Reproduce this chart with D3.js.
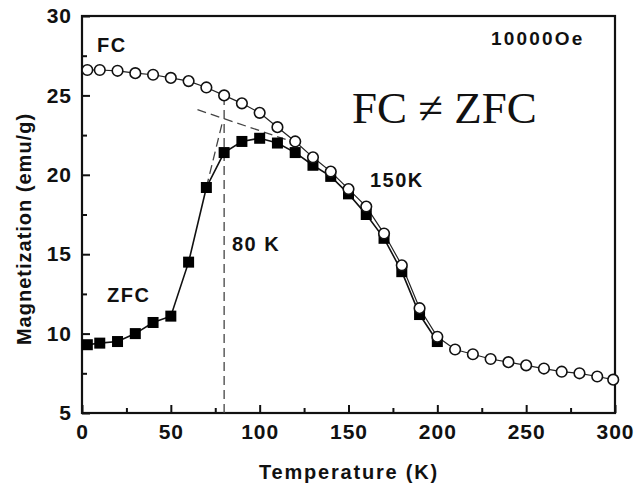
<!DOCTYPE html>
<html>
<head>
<meta charset="utf-8">
<script src="https://cdn.jsdelivr.net/npm/d3@7"></script>
<style>
  html, body { margin: 0; padding: 0; background: #fff; }
  svg { display: block; }
  text { font-family: Arial, "Liberation Sans", sans-serif; fill: #111; }
</style>
</head>
<body>
<svg id="chart" width="635" height="487"></svg>
<script>
// ---- data ----
const fcTemp = [3, 10, 20, 30, 40, 50, 60, 70, 80, 90, 100, 110, 120, 130, 140, 150, 160, 170, 180, 190, 200, 210, 220, 230, 240, 250, 260, 270, 280, 290, 299];
const fcMag  = [26.6, 26.6, 26.55, 26.4, 26.3, 26.1, 25.9, 25.5, 25.0, 24.5, 23.9, 23.0, 22.1, 21.1, 20.2, 19.1, 18.0, 16.3, 14.3, 11.6, 9.8, 9.0, 8.7, 8.4, 8.2, 8.0, 7.8, 7.6, 7.5, 7.3, 7.1];
const zfcTemp = [3, 10, 20, 30, 40, 50, 60, 70, 80, 90, 100, 110, 120, 130, 140, 150, 160, 170, 180, 190, 200];
const zfcMag  = [9.3, 9.4, 9.5, 10.0, 10.7, 11.1, 14.5, 19.2, 21.4, 22.1, 22.3, 22.0, 21.4, 20.6, 19.9, 18.8, 17.5, 16.0, 13.9, 11.2, 9.5];
const xTicks = [0, 50, 100, 150, 200, 250, 300];
const xMinor = [25, 75, 125, 175, 225, 275];
const yTicks = [5, 10, 15, 20, 25, 30];
const yMinor = [7.5, 12.5, 17.5, 22.5, 27.5];
// dashed guide lines [T, M] pairs
const guideVertical = [[80, 5], [80, 24.9]];
const guideFlat = [[65, 24.1], [118, 22.1]];
const guideSteep = [[70, 19.2], [79, 23.3]];

// ---- layout ----
const svg = d3.select("#chart");
const L = 82, R = 615, T = 16, B = 413;
const x = d3.scaleLinear().domain([0, 300]).range([L, R]);
const y = d3.scaleLinear().domain([5, 30]).range([B, T]);

// minor ticks
svg.append("g").attr("transform", `translate(0,${B})`)
  .call(d3.axisBottom(x).tickValues(xMinor).tickSize(-5).tickFormat(""))
  .call(g => g.select(".domain").remove())
  .selectAll("line").attr("stroke", "#111").attr("stroke-width", 2);
svg.append("g").attr("transform", `translate(${L},0)`)
  .call(d3.axisLeft(y).tickValues(yMinor).tickSize(-5).tickFormat(""))
  .call(g => g.select(".domain").remove())
  .selectAll("line").attr("stroke", "#111").attr("stroke-width", 2);

// major ticks
const gx = svg.append("g").attr("transform", `translate(0,${B})`)
  .call(d3.axisBottom(x).tickValues(xTicks).tickSize(-8).tickPadding(11).tickFormat(d3.format("d")));
gx.select(".domain").remove();
gx.selectAll("line").attr("stroke", "#111").attr("stroke-width", 2);
gx.selectAll("text").attr("font-size", 21).attr("font-weight", "bold")
  .attr("font-family", "Arial, 'Liberation Sans', sans-serif").attr("fill", "#111")
  .style("letter-spacing", "1px");

const gy = svg.append("g").attr("transform", `translate(${L},0)`)
  .call(d3.axisLeft(y).tickValues(yTicks).tickSize(-8).tickPadding(10).tickFormat(d3.format("d")));
gy.select(".domain").remove();
gy.selectAll("line").attr("stroke", "#111").attr("stroke-width", 2);
gy.selectAll("text").attr("font-size", 21).attr("font-weight", "bold")
  .attr("font-family", "Arial, 'Liberation Sans', sans-serif").attr("fill", "#111")
  .style("letter-spacing", "1px");

// frame
svg.append("rect").attr("x", L).attr("y", T).attr("width", R - L).attr("height", B - T)
  .attr("fill", "none").attr("stroke", "#111").attr("stroke-width", 2.2);

// guides
const line = d3.line().x(d => x(d[0])).y(d => y(d[1]));
[guideVertical, guideFlat, guideSteep].forEach(g => {
  svg.append("path").attr("d", line(g)).attr("fill", "none")
    .attr("stroke", "#444").attr("stroke-width", 1.3).attr("stroke-dasharray", "9,5");
});

// FC line + markers
const fcData = fcTemp.map((t, i) => [t, fcMag[i]]);
const zfcData = zfcTemp.map((t, i) => [t, zfcMag[i]]);

svg.append("path").attr("d", line(zfcData)).attr("fill", "none")
  .attr("stroke", "#111").attr("stroke-width", 1.6);
svg.append("path").attr("d", line(fcData)).attr("fill", "none")
  .attr("stroke", "#222").attr("stroke-width", 1.2);

svg.append("g").selectAll("rect").data(zfcData).join("rect")
  .attr("x", d => x(d[0]) - 5.5).attr("y", d => y(d[1]) - 5.5)
  .attr("width", 11).attr("height", 11).attr("fill", "#000");

svg.append("g").selectAll("circle").data(fcData).join("circle")
  .attr("cx", d => x(d[0])).attr("cy", d => y(d[1])).attr("r", 5.3)
  .attr("fill", "#fff").attr("stroke", "#111").attr("stroke-width", 1.6);

// annotations
function label(txt, px, py, size, opts = {}) {
  const t = svg.append("text").attr("x", px).attr("y", py).attr("font-size", size)
    .attr("font-weight", opts.weight || "bold").text(txt);
  if (opts.anchor) t.attr("text-anchor", opts.anchor);
  if (opts.family) t.style("font-family", opts.family);
  if (opts.ls) t.style("letter-spacing", opts.ls);
  return t;
}
label("FC", 97, 52, 20, { ls: "1.5px" });
label("10000Oe", 491, 45, 19, { ls: "2.2px" });
label("150K", 370, 187, 20, { ls: "1.5px" });
label("80 K", 232, 251, 20, { ls: "1.5px" });
label("ZFC", 107, 302, 20, { ls: "1.5px" });
label("FC \u2260 ZFC", 352, 123, 45, { weight: "normal", family: "'Liberation Serif', 'Times New Roman', serif" });

// axis titles
label("Temperature (K)", 349, 479, 20, { anchor: "middle", ls: "1.8px" });
svg.append("text").attr("transform", "translate(31,229) rotate(-90)")
  .attr("text-anchor", "middle").attr("font-size", 20).attr("font-weight", "bold")
  .style("letter-spacing", "1px").text("Magnetization (emu/g)");
</script>
</body>
</html>
